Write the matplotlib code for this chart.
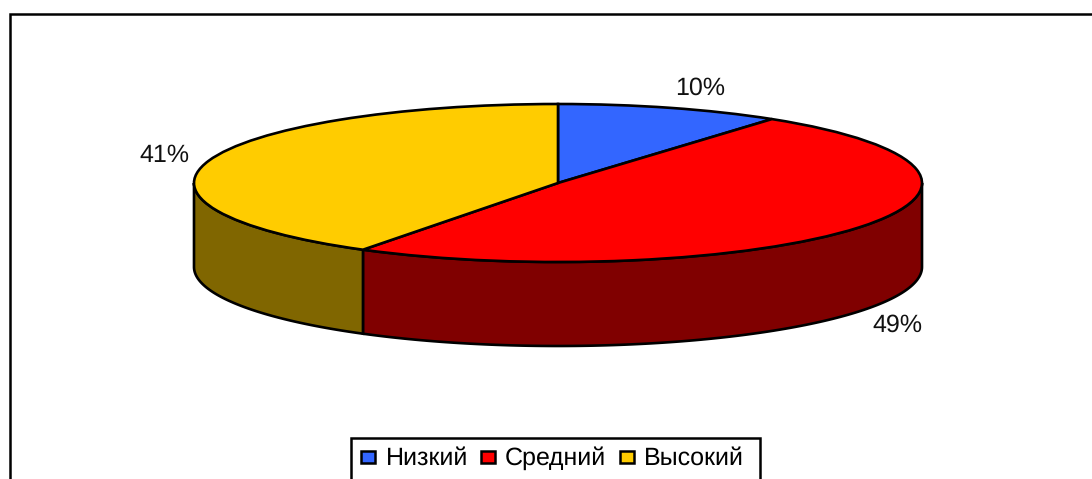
import numpy as np
import matplotlib
matplotlib.use("Agg")
import matplotlib.pyplot as plt
from matplotlib.patches import Polygon, Rectangle

categories = ["Низкий", "Средний", "Высокий"]
values = [10, 49, 41]
value_labels = ["10%", "49%", "41%"]
top_colors = ["#3366FF", "#FF0000", "#FFCC00"]
side_colors = ["#1A3380", "#800000", "#806600"]

W, H = 1092, 479
CX, CY, RX, RY, DEPTH = 558, 183, 364, 79, 84
LW = 1.9

plt.rcParams["font.family"] = ["Liberation Sans", "DejaVu Sans"]
plt.rcParams["text.hinting"] = "none"
plt.rcParams["text.hinting_factor"] = 1
fig = plt.figure(figsize=(W / 100, H / 100), dpi=100)
fig.patch.set_facecolor("white")

# Pie axes: one data unit = RX px horizontally and RY px vertically
ax = fig.add_axes([0, 0, 1, 1])
wedges, _ = ax.pie(values, colors=top_colors, startangle=90, counterclock=False,
                   radius=1, center=(0, 0),
                   wedgeprops=dict(edgecolor="black", linewidth=LW, zorder=5))
ax.set_aspect("auto")
ax.set_xlim(-CX / RX, (W - CX) / RX)
ax.set_ylim((CY - H) / RY, CY / RY)
ax.axis("off")

depth = DEPTH / RY
fractions = np.cumsum([0] + values) / sum(values) * 2 * np.pi
for i in range(len(values)):
    # Only the front half of the rim (pi/2 to 3pi/2, clockwise from the top) is visible
    a0 = max(fractions[i], np.pi / 2)
    a1 = min(fractions[i + 1], 3 * np.pi / 2)
    if a1 <= a0:
        continue
    t = np.linspace(a0, a1, 120)
    x, y = np.sin(t), np.cos(t)
    pts = np.vstack([np.column_stack([x, y]),
                     np.column_stack([x[::-1], y[::-1] - depth])])
    ax.add_patch(Polygon(pts, closed=True, facecolor=side_colors[i],
                         edgecolor="black", linewidth=LW, zorder=3))

# Data labels
label_pos = [(700, 95), (897, 332), (164, 162)]
for txt, (px, py) in zip(value_labels, label_pos):
    fig.text(px / W, 1 - py / H, txt, fontsize=18, color="#111111",
             ha="center", va="baseline")

# Outer chart border, cut off by the right and bottom image edges
fig.add_artist(Rectangle((9.5 / W, -0.05), 1.1, 1 - 14 / H + 0.05,
                         transform=fig.transFigure, fill=False,
                         edgecolor="black", linewidth=1.8))

# Legend box
fig.add_artist(Rectangle((351 / W, -0.05), (760 - 351) / W, 1 - 437.5 / H + 0.05,
                         transform=fig.transFigure, fill=True, facecolor="white",
                         edgecolor="black", linewidth=1.8, zorder=6))
legend_sw = [361, 481, 620]
legend_tx = [386, 505, 644]
for name, c, sx, tx in zip(categories, top_colors, legend_sw, legend_tx):
    fig.add_artist(Rectangle((sx / W, 1 - 463 / H), 14 / W, 12 / H,
                             transform=fig.transFigure, facecolor=c,
                             edgecolor="black", linewidth=1.8, zorder=7))
    fig.text(tx / W, 1 - 465 / H, name, fontsize=18, color="black",
             ha="left", va="baseline", zorder=7)

fig.savefig("out.png", dpi=100)
